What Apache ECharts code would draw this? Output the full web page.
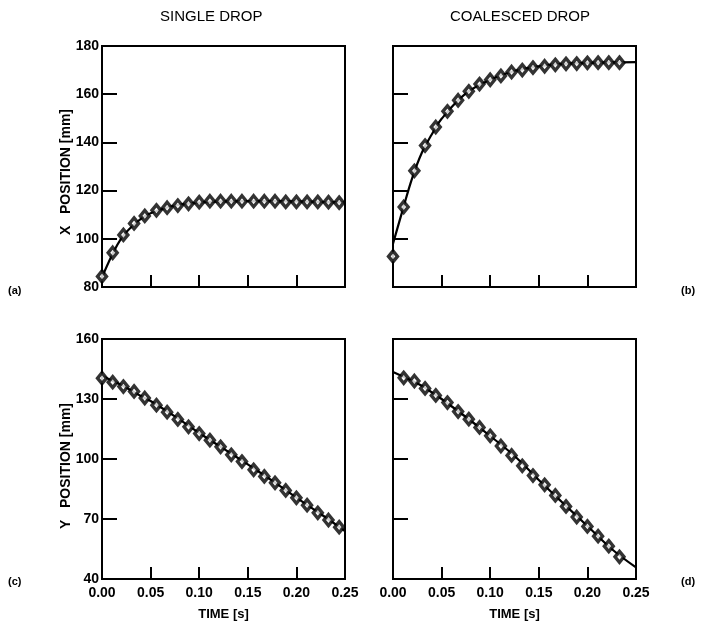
<!DOCTYPE html>
<html>
<head>
<meta charset="utf-8">
<script src="https://cdn.jsdelivr.net/npm/echarts@6.0.0/dist/echarts.min.js"></script>
<style>
  html, body { margin: 0; padding: 0; background: #fff; }
  #chart { width: 701px; height: 626px; }
</style>
</head>
<body>
<div id="chart"></div>
<script>
// sample times of the measured points [s]
const sampleTime = [0.000, 0.011, 0.022, 0.033, 0.044, 0.056, 0.067, 0.078, 0.089, 0.100,
  0.111, 0.122, 0.133, 0.144, 0.156, 0.167, 0.178, 0.189, 0.200, 0.211, 0.222, 0.233, 0.244];

// measured positions [mm]
const xSingle = [84.4, 94.2, 101.6, 106.4, 109.5, 111.8, 112.9, 113.8, 114.5, 115.2,
  115.6, 115.6, 115.6, 115.6, 115.6, 115.6, 115.6, 115.3, 115.3, 115.3, 115.3, 115.2, 115.0];
const xCoalesced = [92.7, 113.2, 128.2, 138.7, 146.4, 152.9, 157.5, 161.2, 164.2, 166.0,
  167.6, 169.2, 170.0, 171.0, 171.6, 172.2, 172.6, 172.7, 173.0, 173.1, 173.1, 173.1];
const ySingle = [140.4, 138.4, 136.2, 133.8, 130.5, 126.9, 123.4, 119.8, 116.1, 112.7,
  109.4, 106.1, 102.1, 98.7, 94.6, 91.3, 88.1, 84.3, 80.6, 76.9, 73.1, 69.5, 65.9];
// coalesced drop y: first mark at the 2nd sample time
const yCoalesced = [140.6, 139.0, 135.3, 131.8, 128.2, 123.7, 119.9, 115.8, 111.6,
  106.5, 101.8, 96.6, 91.7, 87.1, 81.8, 76.3, 71.0, 66.3, 61.4, 56.4, 51.1];

// fitted curves
const fitTime = [0, 0.01, 0.02, 0.03, 0.04, 0.05, 0.075, 0.1, 0.125, 0.15, 0.175, 0.2, 0.225, 0.25];
const fitXSingle = [84, 93, 100.3, 104.8, 108.3, 110.6, 113.8, 115, 115.5, 115.6, 115.6, 115.5, 115.3, 115.1];
const fitXCoalesced = [98, 112, 125.5, 136, 143.4, 149.8, 160.3, 166, 169.6, 171.6, 172.6, 173, 173.2, 173.3];
const fitYSingle = [141.5, 139.3, 137, 134.3, 131.5, 129, 121.3, 113, 105.2, 97.3, 89.2, 80.7, 72.5, 64];
const fitYCoalesced = [143.5, 141.3, 139, 136.5, 133.3, 130, 121, 111.5, 101.5, 89.5, 77.9, 66.5, 55, 45.8];

const FONT = "'Liberation Sans', Arial, sans-serif";

const pairs = (t, v) => v.map((y, i) => [t[i], y]);

const grids = [
  { left: 102, top: 46, width: 243, height: 241 },
  { left: 393, top: 46, width: 243, height: 241 },
  { left: 102, top: 339, width: 243, height: 240 },
  { left: 393, top: 339, width: 243, height: 240 }
].map(g => Object.assign(g, { show: true, borderColor: '#000', borderWidth: 2, containLabel: false }));

const xAxes = [0, 1, 2, 3].map(i => ({
  type: 'value',
  gridIndex: i,
  min: 0, max: 0.25, interval: 0.05,
  name: i >= 2 ? 'TIME [s]' : '',
  nameLocation: 'middle',
  nameGap: 29,
  nameTextStyle: { color: '#000', fontFamily: FONT, fontWeight: 'bold', fontSize: 13 },
  axisLine: { lineStyle: { color: '#000', width: 2 } },
  axisTick: { inside: true, length: 12, lineStyle: { color: '#000', width: 2 } },
  splitLine: { show: false },
  axisLabel: {
    show: i >= 2, color: '#000', fontFamily: FONT, fontWeight: 'bold', fontSize: 14, margin: 7,
    formatter: v => v.toFixed(2)
  }
}));

const yAxes = [0, 1, 2, 3].map(i => ({
  type: 'value',
  gridIndex: i,
  min: i < 2 ? 80 : 40,
  max: i < 2 ? 180 : 160,
  interval: i < 2 ? 20 : 30,
  axisLine: { lineStyle: { color: '#000', width: 2 } },
  axisTick: { inside: true, length: 15, lineStyle: { color: '#000', width: 2 } },
  splitLine: { show: false },
  axisLabel: { show: i % 2 === 0, color: '#000', fontFamily: FONT, fontWeight: 'bold', fontSize: 14, margin: 3 }
}));

const fits = [fitXSingle, fitXCoalesced, fitYSingle, fitYCoalesced];
const marks = [
  pairs(sampleTime, xSingle),
  pairs(sampleTime, xCoalesced),
  pairs(sampleTime, ySingle),
  pairs(sampleTime.slice(1), yCoalesced)
];

const series = [];
fits.forEach((f, i) => {
  series.push({
    type: 'line', xAxisIndex: i, yAxisIndex: i,
    data: pairs(fitTime, f), smooth: 0.4, showSymbol: false,
    lineStyle: { color: '#000', width: 2.2 }, z: 2, silent: true
  });
  series.push({
    type: 'scatter', xAxisIndex: i, yAxisIndex: i,
    data: marks[i], symbol: 'diamond', symbolSize: [9, 11],
    itemStyle: { color: '#fff', borderColor: '#000', borderWidth: 3.4 }, z: 3
  });
});

const chart = echarts.init(document.getElementById('chart'), null, { renderer: 'canvas' });
chart.setOption({
  backgroundColor: '#fff',
  animation: false,
  grid: grids,
  xAxis: xAxes,
  yAxis: yAxes,
  series: series,
  graphic: [
    { type: 'text', left: 160, top: 9, style: { text: 'SINGLE DROP', fill: '#000', font: '15px ' + FONT } },
    { type: 'text', left: 450, top: 9, style: { text: 'COALESCED DROP', fill: '#000', font: '15px ' + FONT } },
    { type: 'text', x: 66, y: 172, rotation: Math.PI / 2,
      style: { text: 'X   POSITION [mm]', fill: '#000', font: 'bold 14px ' + FONT, align: 'center', verticalAlign: 'middle' } },
    { type: 'text', x: 66, y: 466, rotation: Math.PI / 2,
      style: { text: 'Y   POSITION [mm]', fill: '#000', font: 'bold 14px ' + FONT, align: 'center', verticalAlign: 'middle' } },
    { type: 'text', left: 8, top: 285, style: { text: '(a)', fill: '#000', font: 'bold 11px ' + FONT } },
    { type: 'text', left: 681, top: 285, style: { text: '(b)', fill: '#000', font: 'bold 11px ' + FONT } },
    { type: 'text', left: 8, top: 576, style: { text: '(c)', fill: '#000', font: 'bold 11px ' + FONT } },
    { type: 'text', left: 681, top: 576, style: { text: '(d)', fill: '#000', font: 'bold 11px ' + FONT } }
  ]
});
</script>
</body>
</html>
